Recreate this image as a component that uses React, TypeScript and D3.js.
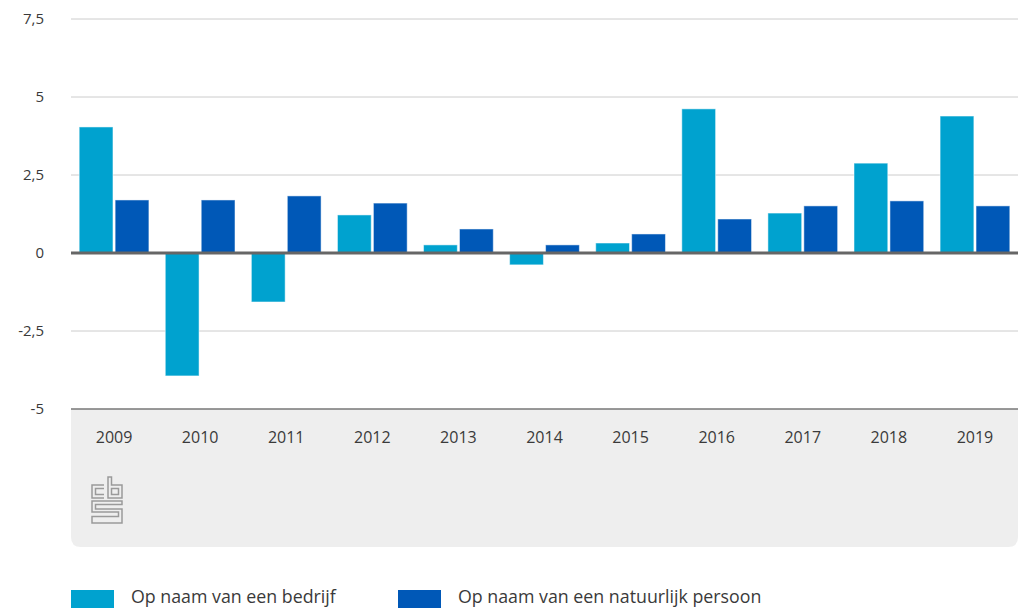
import React from "react";
import * as d3 from "d3";

const years = ["2009","2010","2011","2012","2013","2014","2015","2016","2017","2018","2019"];
const bedrijf = [4.04, -3.94, -1.57, 1.22, 0.26, -0.38, 0.32, 4.62, 1.28, 2.88, 4.39];
const persoon = [1.70, 1.70, 1.83, 1.60, 0.77, 0.26, 0.61, 1.09, 1.51, 1.67, 1.51];
const yTicks = [-5, -2.5, 0, 2.5, 5, 7.5];
const seriesNames = ["Op naam van een bedrijf", "Op naam van een natuurlijk persoon"];
const colors = ["#00a2cf", "#0058b7"];

const W = 1018, H = 610;
const left = 71, right = 1018, top = 19, bottom = 409;
const font = "'Open Sans', 'Segoe UI', sans-serif";

export default function App() {
  const y = d3.scaleLinear().domain([-5, 7.5]).range([bottom, top]);
  const x0 = d3.scaleBand().domain(years).range([left, right]).paddingInner(0.19).paddingOuter(0.095);
  const x1 = d3.scaleBand().domain(["0", "1"]).range([0, x0.bandwidth()]).paddingInner(0.06);
  const fmt = (v: number) => String(v).replace(".", ",");
  const series = [bedrijf, persoon];
  const grayR = 10;
  const gTop = bottom, gBot = 547;
  const bgPath = `M${left},${gTop} H${right} V${gBot - grayR} Q${right},${gBot} ${right - grayR},${gBot} H${left + grayR} Q${left},${gBot} ${left},${gBot - grayR} Z`;
  return (
    <svg width={W} height={H} style={{ position: "absolute", left: 0, top: 0, background: "#fff" }}>
      <path d={bgPath} fill="#eeeeee" />
      {yTicks.map((t) => (
        <g key={t}>
          {t !== 0 && t !== -5 && (
            <line x1={left} x2={right} y1={y(t)} y2={y(t)} stroke="#cccccc" strokeWidth={1} />
          )}
          <text x={44} y={y(t) + 5} textAnchor="end" fontFamily={font} fontSize={15} fill="#3a3a3a">
            {fmt(t)}
          </text>
        </g>
      ))}
      {years.map((yr, i) => (
        <g key={yr} transform={`translate(${x0(yr)},0)`}>
          {series.map((s, j) => {
            const v = s[i];
            const yy = Math.min(y(v), y(0));
            const h = Math.abs(y(v) - y(0));
            return (
              <rect key={j} x={x1(String(j))} y={yy} width={x1.bandwidth()} height={h}
                fill={colors[j]} stroke="#ffffff" strokeOpacity={0.5} strokeWidth={1} />
            );
          })}
        </g>
      ))}
      <line x1={left} x2={right} y1={y(0)} y2={y(0)} stroke="#666666" strokeWidth={3} />
      <line x1={left} x2={right} y1={y(-5)} y2={y(-5)} stroke="#777777" strokeWidth={1.5} />
      {years.map((yr) => (
        <text key={yr} x={(x0(yr) as number) + x0.bandwidth() / 2} y={443} textAnchor="middle"
          fontFamily={font} fontSize={16} fill="#3a3a3a">{yr}</text>
      ))}
      <g transform="translate(91,477)" fill="none" stroke="#9a9a9a" strokeWidth={1.5}>
        <path d="M13,8 H1 V21 H13 M13,11.5 H4.5 V17.5 H13" />
        <path d="M17,0 V21 H31 V8 H20.5 V0 Z M20.5,11.5 H27.5 V17.5 H20.5 Z" />
        <path d="M31,24 H1 V35 H27.5 V39.5 H1 V46 H31 V32 H4.5 V27.5 H31 Z" />
      </g>
      {seriesNames.map((n, j) => {
        const lx = j === 0 ? 71 : 398;
        return (
          <g key={n}>
            <rect x={lx} y={590} width={43} height={18} fill={colors[j]} />
            <text x={lx + 60} y={603} fontFamily={font} fontSize={17.8} fill="#3a3a3a">{n}</text>
          </g>
        );
      })}
    </svg>
  );
}
